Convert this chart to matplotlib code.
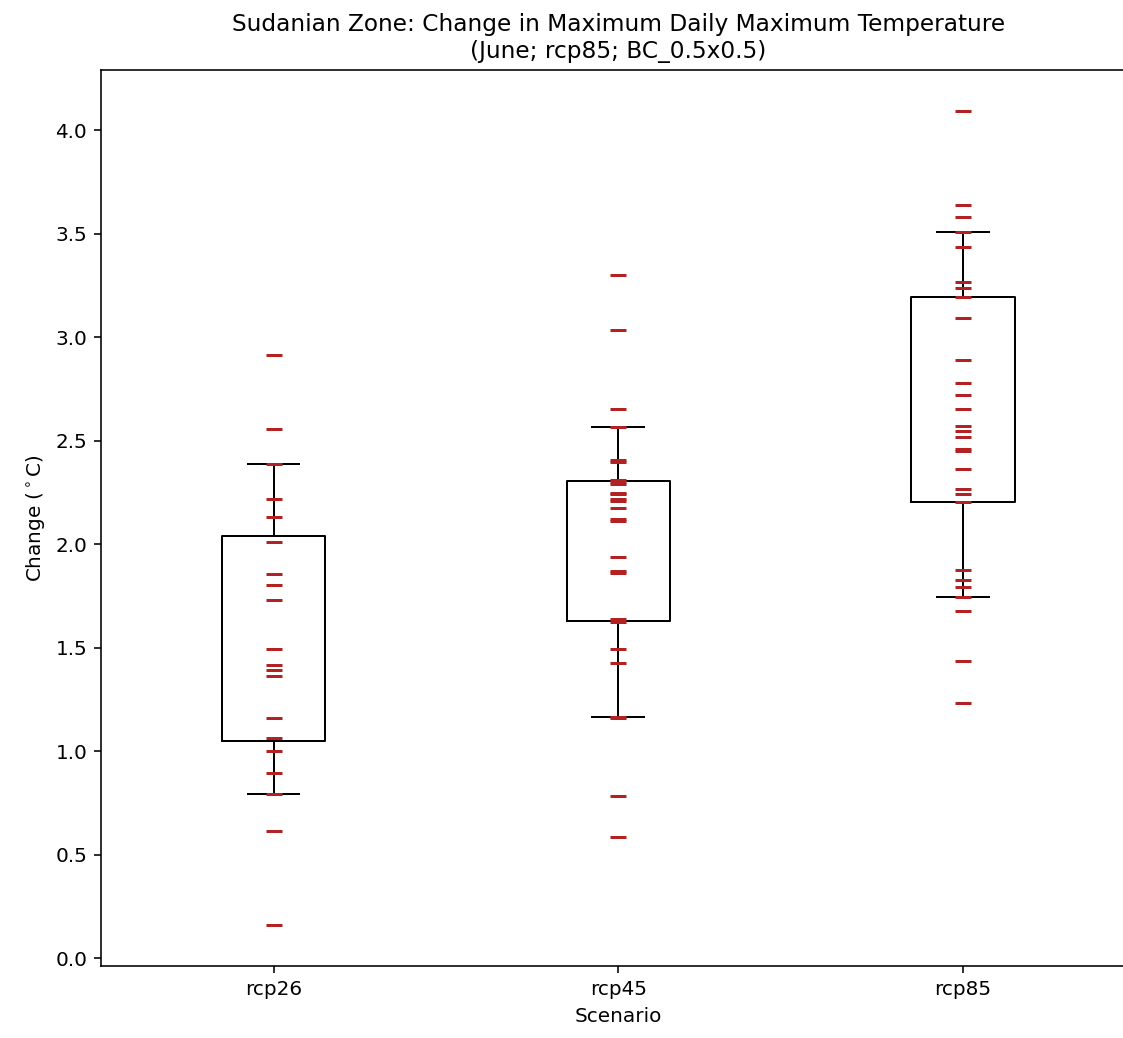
import numpy as np
import matplotlib
matplotlib.use("Agg")
import matplotlib.pyplot as plt

# Scenario labels and the per-model changes
scenarios = ["rcp26", "rcp45", "rcp85"]

rcp26 = [2.917, 2.556, 2.389, 2.218, 2.132, 2.010, 1.859, 1.802, 1.730, 1.494,
         1.418, 1.394, 1.362, 1.161, 1.065, 1.001, 0.896, 0.794, 0.617, 0.160]

rcp45 = [3.301, 3.036, 2.652, 2.565, 2.410, 2.397, 2.312, 2.300, 2.292, 2.250,
         2.243, 2.218, 2.210, 2.178, 2.122, 2.115, 1.940, 1.872, 1.862, 1.638,
         1.624, 1.497, 1.427, 1.168, 1.163, 0.784, 0.585]

rcp85 = [4.095, 3.639, 3.582, 3.507, 3.438, 3.269, 3.237, 3.195, 3.093, 2.893,
         2.781, 2.724, 2.654, 2.572, 2.546, 2.517, 2.460, 2.450, 2.363, 2.267,
         2.244, 2.204, 1.875, 1.827, 1.794, 1.745, 1.676, 1.435, 1.234]

data = [rcp26, rcp45, rcp85]

fig = plt.figure(figsize=(1123 / 144, 1038 / 144), dpi=144)
# axes runs a little past the right edge, like the cropped original
ax = fig.add_axes([101.2 / 1123, 72 / 1038, 1034 / 1123, 896 / 1038])

# whiskers at the 10th/90th percentiles, no median line, no fliers
ax.boxplot(data, whis=[10, 90], showfliers=False,
           medianprops=dict(linewidth=0),
           boxprops=dict(color="black"),
           whiskerprops=dict(color="black"),
           capprops=dict(color="black"))

for i, vals in enumerate(data):
    ax.plot(np.full(len(vals), i + 1), vals, linestyle="none", marker="_",
            markersize=8, markeredgewidth=1.5, color="#b22222")

ax.set_xlim(0.5, 3.5)
ax.set_xticks([1, 2, 3])
ax.set_xticklabels(scenarios)
ax.set_xlabel("Scenario")
ax.set_ylabel(r"Change ($^\circ$C)")
ax.set_title("Sudanian Zone: Change in Maximum Daily Maximum Temperature\n"
             "(June; rcp85; BC_0.5x0.5)", fontsize=11.6)

plt.savefig("out.png", dpi=144)
